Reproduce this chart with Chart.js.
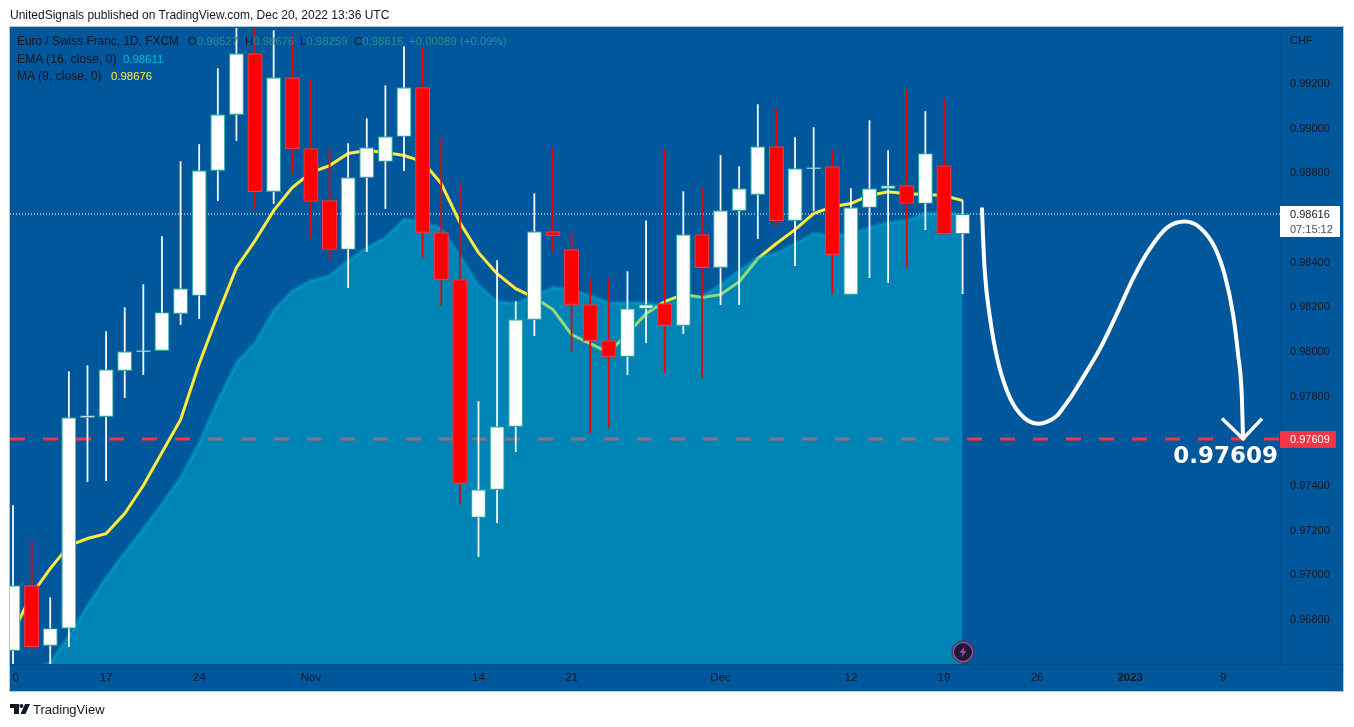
<!DOCTYPE html>
<html><head><meta charset="utf-8">
<script src="https://cdn.jsdelivr.net/npm/chart.js@4"></script>
<style>
html,body{margin:0;padding:0;background:#fff;overflow:hidden}
body{width:1354px;height:727px;position:relative;font-family:"Liberation Sans",sans-serif;color:#131722}
#panel{position:absolute;left:10px;top:27px;width:1333px;height:664px;background:#01579b;box-shadow:0 0 0 1px #b4c6da}
#c{position:absolute;left:0;top:0}
.t{position:absolute;white-space:nowrap;font-size:11.4px;line-height:14px}
#hdr{left:10px;top:8px;font-size:12px;color:#131722}
.lg{color:#131722}
.v{color:#2a8d88}
.e{color:#00bcd4}.m{color:#ffeb3b}
#foot{left:33px;top:702px;font-size:13px;line-height:16px;color:#131722}
#chf{left:1290px;top:33px;font-size:11px;color:#131722}
svg{position:absolute}
</style></head><body>
<div id="panel"></div>
<canvas id="c" width="1354" height="727"></canvas>
<div class="t" id="hdr">UnitedSignals published on TradingView.com, Dec 20, 2022 13:36 UTC</div>
<div class="t lg" style="left:17px;top:34px;font-size:11.9px">Euro / Swiss Franc, 1D, FXCM</div>
<div class="t lg" style="left:188px;top:34px">O<span class="v">0.98527</span></div>
<div class="t lg" style="left:245px;top:34px">H<span class="v">0.98676</span></div>
<div class="t lg" style="left:300px;top:34px">L<span class="v">0.98259</span></div>
<div class="t lg" style="left:354px;top:34px">C<span class="v">0.98616</span></div>
<div class="t v" style="left:409px;top:34px">+0.00089</div>
<div class="t v" style="left:460px;top:34px">(+0.09%)</div>
<div class="t lg" style="left:17px;top:52px;font-size:12.2px">EMA (16, close, 0)</div>
<div class="t e" style="left:123px;top:52px">0.98611</div>
<div class="t lg" style="left:17px;top:69px;font-size:12.2px">MA (9, close, 0)</div>
<div class="t m" style="left:111px;top:69px">0.98676</div>
<div class="t" id="chf">CHF</div>
<svg style="left:951px;top:640px" width="24" height="24" viewBox="0 0 24 24"><circle cx="12" cy="12" r="11.4" fill="#3a4150"/><circle cx="12" cy="12" r="9.6" fill="#1c1b33" stroke="#ab47bc" stroke-width="1.4"/><path d="M13.6 6.5 8.6 12.8h3l-1.4 4.7 5.2-6.4h-3z" fill="#ab47bc"/></svg>
<svg style="left:10px;top:704px" width="20" height="10" viewBox="0 0 20 10"><path d="M0 0h9v10H4V4H0z" fill="#131722"/><circle cx="11.4" cy="2" r="2" fill="#131722"/><path d="M15 0h5l-4.5 10h-5z" fill="#131722"/></svg>
<div class="t" id="foot">TradingView</div>
<script>
const opens=[.96661,.96952,.96683,.96760,.97704,.97709,.97915,.98000,.98004,.98170,.98251,.98810,.99061,.99334,.98716,.99227,.98909,.98676,.98457,.98779,.98851,.98963,.99182,.98533,.98322,.97257,.97382,.97664,.98143,.98537,.98457,.98210,.98049,.97977,.98192,.98215,.98116,.98524,.98376,.98631,.98703,.98918,.98586,.98819,.98828,.98255,.98645,.98730,.98743,.98663,.98833,.98527];
const closes=[.96952,.96679,.96760,.97704,.97713,.97919,.98000,.98004,.98175,.98282,.98810,.99061,.99334,.98716,.99227,.98909,.98672,.98457,.98779,.98913,.98963,.99182,.98533,.98322,.97409,.97382,.97664,.98143,.98537,.98519,.98210,.98049,.97977,.98192,.98210,.98116,.98524,.98376,.98631,.98730,.98918,.98586,.98819,.98824,.98434,.98645,.98730,.98743,.98663,.98887,.98527,.98616];
const highs=[.97310,.97149,.96898,.97910,.97937,.98090,.98197,.98300,.98515,.98851,.98927,.99267,.99464,.99460,.99437,.99411,.99218,.98909,.98931,.99043,.99191,.99366,.99361,.98958,.98752,.97776,.98407,.98224,.98707,.98909,.98537,.98322,.98327,.98358,.98586,.98904,.98716,.98730,.98878,.98828,.99106,.99088,.98958,.99003,.98900,.98730,.99034,.98900,.99173,.99075,.99133,.98676];
const lows=[.96527,.96665,.96527,.96679,.97418,.97422,.97794,.97897,.98004,.98121,.98148,.98676,.98945,.98636,.98663,.98797,.98511,.98412,.98286,.98448,.98640,.98810,.98421,.98206,.97319,.97082,.97234,.97552,.98071,.98448,.98000,.97637,.97660,.97897,.98040,.97906,.98080,.97883,.98210,.98210,.98506,.98564,.98385,.98631,.98259,.98255,.98331,.98309,.98376,.98546,.98527,.98259];
const ema16=[.96482,.96580,.96607,.96728,.96863,.96988,.97100,.97207,.97319,.97436,.97592,.97781,.97951,.98040,.98184,.98273,.98318,.98340,.98407,.98466,.98510,.98591,.98582,.98551,.98430,.98296,.98224,.98215,.98251,.98287,.98278,.98251,.98219,.98219,.98219,.98206,.98246,.98246,.98300,.98363,.98421,.98439,.98484,.98528,.98519,.98528,.98555,.98578,.98587,.98618,.98622,.98611];
const ma9=[.96742,.96912,.97028,.97131,.97163,.97185,.97275,.97400,.97548,.97695,.97946,.98166,.98376,.98497,.98631,.98734,.98802,.98833,.98887,.98900,.98891,.98878,.98851,.98752,.98578,.98443,.98349,.98282,.98242,.98188,.98076,.98036,.97995,.98081,.98170,.98224,.98255,.98242,.98255,.98313,.98416,.98484,.98546,.98618,.98649,.98663,.98699,.98716,.98707,.98703,.98699,.98676];
const curveIdx=[52.04,52.09,52.2,52.47,52.85,53.38,54.08,55.05,55.56,56.07,56.45,56.77,57.30,58.38,59.29,60.15,61.06,61.98,62.94,63.75,64.55,65.09,65.52,65.79,66.0,66.06];
const curvePrice=[.98645,.98528,.98349,.98152,.97973,.97825,.97722,.97677,.97686,.97713,.97754,.97790,.97861,.98013,.98170,.98327,.98461,.98555,.98582,.98555,.98466,.98340,.98170,.97991,.97794,.97610];
const arrowIdx=[64.93,66.06,67.08];
const arrowPrice=[.97700,.97610,.97700];
const targetPrice=.97609;
const lastClose=.98616;
const countdown="07:15:12";
const xTickValues=[.15,5,10,16,25,30,38,45,50,55,60,65];
const xTickLabels=["0","17","24","Nov","14","21","Dec","12","19","26","2023","9"];
const yTicks=[.968,.970,.972,.974,.978,.980,.982,.984,.988,.990,.992];
const X_MIN=-.161,X_MAX=68.1,Y_MIN=.96601,Y_MAX=.99449;

const idx=opens.map((_,i)=>i);
const up=idx.map(i=>closes[i]>=opens[i]);
const tagPlugin={id:'tags',
 afterUpdate(ch){ch.scales.y.getLabelItems().forEach(it=>{it.options.translation[1]+=.5;});},
 afterDraw(ch){
  const c=ch.ctx,y=ch.scales.y;
  c.save();
  const py=y.getPixelForValue(lastClose), pt=y.getPixelForValue(targetPrice);
  c.fillStyle='#fff';c.fillRect(1280,206,60,31);
  c.fillStyle='#f23645';c.fillRect(1280,pt-8,56,17);
  c.textAlign='left';c.textBaseline='middle';c.font='11px "Liberation Sans"';
  c.fillStyle='#131722';c.fillText(lastClose.toFixed(5),1290,py+1);
  c.fillStyle='#4a4f5c';c.fillText(countdown,1290,py+16);
  c.fillStyle='#fff';c.fillText(targetPrice.toFixed(5),1290,pt+1);
  c.font='bold 23px "DejaVu Sans"';c.fillStyle='#fff';c.textAlign='right';
  c.fillText(targetPrice.toFixed(5),1278,pt+18.5);
  c.strokeStyle='rgba(19,23,34,.18)';c.lineWidth=1;
  c.beginPath();c.moveTo(1281,664.5);c.lineTo(1344,664.5);c.stroke();
  c.restore();
}};
const line=(xs,ys,o)=>Object.assign({type:'line',data:xs.map((x,i)=>({x,y:ys[i]})),pointRadius:0,fill:false,tension:0},o);
new Chart(document.getElementById('c'),{
  plugins:[tagPlugin],
  data:{datasets:[
    line(idx,ma9,{order:9,borderColor:'#ffeb3b',borderWidth:3}),
    line([X_MIN,X_MAX],[targetPrice,targetPrice],{order:8,borderColor:'#f23645',borderWidth:3,borderDash:[15,18]}),
    line([X_MIN,X_MAX],[lastClose,lastClose],{order:7,borderColor:'#fff',borderWidth:1,borderDash:[1,2]}),
    line(idx,ema16,{order:6,borderColor:'rgba(0,188,212,.3)',borderWidth:4,fill:'start',backgroundColor:'rgba(0,192,217,.42)'}),
    {type:'bar',order:5,data:idx.map(i=>({x:i,y:[lows[i],highs[i]]})),barThickness:1.1,grouped:false,borderWidth:0,backgroundColor:up.map(u=>u?'#ffffff':'#f00000')},
    {type:'bar',order:4,data:idx.map(i=>({x:i,y:[opens[i],closes[i]]})),barThickness:14.4,grouped:false,borderWidth:1.2,borderSkipped:false,
      backgroundColor:up.map(u=>u?'#ffffff':'#ff0000'),borderColor:up.map(u=>u?'#26a69a':'#f23645')},
    line(curveIdx,curvePrice,{order:3,borderColor:'#fff',borderWidth:4,cubicInterpolationMode:'monotone'}),
    line(arrowIdx,arrowPrice,{order:2,borderColor:'#fff',borderWidth:3.5})
  ]},
  options:{
    responsive:false,animation:false,devicePixelRatio:1,
    layout:{padding:{left:10,right:10,top:28,bottom:35}},
    plugins:{legend:{display:false},tooltip:{enabled:false}},
    scales:{
      x:{type:'linear',min:X_MIN,max:X_MAX,offset:false,
        grid:{display:false,drawTicks:false},border:{display:true,color:'rgba(19,23,34,.18)'},
        afterBuildTicks(s){s.ticks=xTickValues.map(value=>({value}));},
        afterFit(s){s.height=28;},
        ticks:{autoSkip:false,maxRotation:0,padding:7,color:'#131722',
          font:c=>({family:'"Liberation Sans"',size:11.5,weight:c.tick&&c.tick.value===60?'bold':'normal'}),
          callback:v=>xTickLabels[xTickValues.indexOf(v)]}},
      y:{type:'linear',position:'right',min:Y_MIN,max:Y_MAX,
        grid:{display:false,drawTicks:false},border:{display:true,color:'rgba(19,23,34,.18)'},
        afterBuildTicks(s){s.ticks=yTicks.map(value=>({value}));},
        afterFit(s){s.width=63;},
        ticks:{autoSkip:false,padding:9,color:'#131722',align:'center',crossAlign:'near',
          font:{family:'"Liberation Sans"',size:11},callback:v=>v.toFixed(5)}}
    }
  }
});
</script>
</body></html>
